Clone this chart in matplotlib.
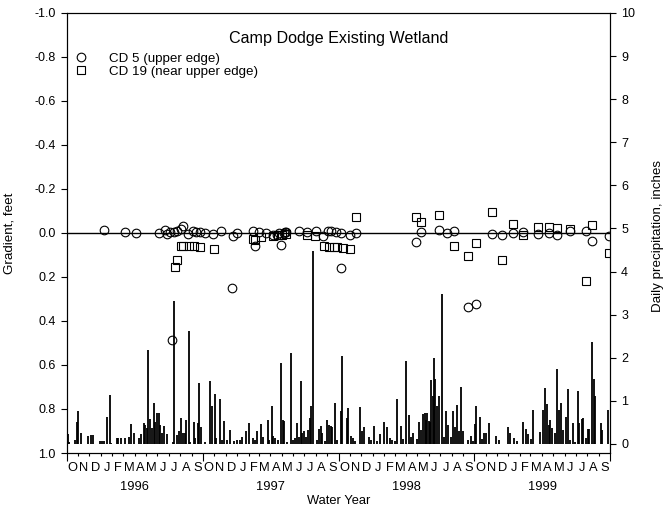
import numpy as np
import pandas as pd
import matplotlib
matplotlib.use("Agg")
import matplotlib.pyplot as plt

plt.rcParams['font.family'] = ['Liberation Sans', 'DejaVu Sans']
plt.rcParams['axes.unicode_minus'] = False

# ---------------- data ----------------
# x = day number counted from 1 Oct 1995 (start of water year 1996)
precip_day = [
    4, 7, 21, 27, 30, 39, 56, 66, 70, 90, 95, 101, 107, 116, 120, 135, 138, 147, 156, 167,
    174, 180, 194, 201, 208, 211, 216, 219, 224, 229, 235, 238, 243, 247, 252, 256, 261, 271,
    285, 289, 297, 301, 306, 312, 319, 322, 329, 332, 341, 346, 353, 357, 362,
    373, 386, 392, 399, 402, 411, 418, 424, 430, 439, 450, 459, 466, 471, 481, 490, 502, 507,
    513, 523, 529, 540, 545, 551, 556, 561, 568, 576, 581, 584, 592, 602, 608, 615, 620, 624,
    629, 634, 638, 644, 649, 653, 658, 662, 674, 679, 683, 687, 694, 701, 705, 710, 714, 721, 726,
    737, 740, 753, 757, 764, 769, 774, 790, 794, 800, 812, 819, 826, 835, 843, 853, 862, 869,
    876, 882, 889, 898, 905, 912, 920, 927, 932, 941, 948, 954, 959, 963, 966, 970, 973, 977,
    981, 984, 987, 990, 997, 1002, 1008, 1015, 1020, 1025, 1033, 1038, 1043, 1049, 1054, 1061,
    1067, 1079, 1086, 1092,
    1097, 1100, 1112, 1117, 1122, 1127, 1136, 1154, 1162, 1188, 1191, 1204, 1210, 1228, 1235,
    1240, 1249, 1255, 1274, 1282, 1285, 1292, 1296, 1300, 1305, 1314, 1318, 1323, 1328, 1335,
    1343, 1349, 1353, 1362, 1368, 1374, 1378, 1385, 1388, 1396, 1401, 1405, 1412, 1417, 1422,
    1436, 1439, 1457,
]
precip_in = [
    0.23, 0.05, 0.10, 0.50, 0.77, 0.25, 0.19, 0.22, 0.20, 0.08, 0.08, 0.07, 0.63, 1.14, 0.03, 0.13, 0.13, 0.13, 0.13, 0.17,
    0.46, 0.26, 0.13, 0.23, 0.48, 0.44, 0.36, 2.18, 0.58, 0.36, 0.96, 0.52, 0.71, 0.73, 0.44, 0.26, 0.42, 0.23,
    0.05, 3.32, 0.21, 0.31, 0.60, 0.26, 0.25, 0.56, 2.62, 0.05, 0.51, 0.13, 0.48, 1.41, 0.40,
    0.05, 1.46, 0.88, 1.15, 0.13, 1.04, 0.09, 0.53, 0.09, 0.32, 0.07, 0.09, 0.09, 0.17, 0.29, 0.49, 0.13, 0.09,
    0.29, 0.47, 0.17, 0.56, 0.09, 0.88, 0.19, 0.13, 0.09, 1.89, 0.56, 0.54, 0.05, 2.11, 0.09, 0.13, 0.49, 0.17,
    1.45, 0.26, 0.29, 0.17, 0.32, 0.60, 0.88, 4.47, 0.09, 0.34, 0.42, 0.26, 0.07, 0.56, 0.44, 0.42, 0.40, 0.96, 0.09,
    0.77, 2.03, 0.60, 0.84, 0.19, 0.15, 0.08, 0.85, 0.30, 0.39, 0.17, 0.09, 0.42, 0.08, 0.23, 0.51, 0.40, 0.15,
    0.09, 0.08, 1.04, 0.42, 0.11, 1.93, 0.67, 0.17, 0.25, 0.11, 0.50, 0.32, 0.70, 0.73, 0.56, 0.71, 0.53, 0.52,
    1.48, 1.11, 2.00, 1.50, 0.89, 1.11, 3.48, 0.17, 0.76, 0.43, 0.17, 0.76, 0.39, 0.90, 0.29, 1.33,
    0.29, 0.09, 0.19, 0.08,
    0.46, 0.88, 0.63, 0.11, 0.25, 0.26, 0.48, 0.19, 0.09, 0.39, 0.26, 0.13, 0.08, 0.50, 0.34,
    0.23, 0.11, 0.79, 0.27, 0.80, 1.29, 0.93, 0.44, 0.56, 0.38, 0.25, 1.73, 0.80, 0.94, 0.32,
    0.62, 1.27, 0.09, 0.48, 0.05, 1.23, 0.48, 0.59, 0.60, 0.13, 0.34, 0.34, 2.36, 1.50, 1.11,
    0.48, 0.32, 0.80,
]

cd5_day = [100, 157, 186, 247, 265, 269, 278, 283, 288, 297, 306, 313, 327, 340, 349, 358, 372,
           394, 416, 444, 446, 459, 500, 505, 518, 536, 556, 565, 572, 575, 584, 588, 591, 625,
           647, 670, 690, 703, 710, 724, 737, 738, 762, 778, 939, 952, 1002, 1023, 1041, 1080,
           1100, 1143, 1171, 1199, 1226, 1268, 1296, 1319, 1353, 1396, 1412, 1459]
cd5_grad = [-0.012, -0.006, 0.0, 0.0, -0.014, 0.005, -0.005, 0.486, -0.005, -0.008, -0.020, -0.032, 0.005, -0.008, -0.006, -0.005, 0.0,
            0.006, -0.010, 0.248, 0.015, 0.0, -0.010, 0.058, -0.005, -0.002, 0.010, 0.008, 0.0, 0.053, 0.0, -0.005, -0.005, -0.008,
            -0.005, -0.010, 0.012, -0.008, -0.008, -0.005, 0.159, -0.002, 0.008, -0.002, 0.042, -0.003, -0.014, 0.002, -0.011, 0.336,
            0.324, 0.005, 0.009, 0.0, -0.003, 0.005, -0.002, 0.009, -0.008, -0.008, 0.035, 0.014]

cd19_day = [291, 297, 306, 313, 329, 343, 358, 395, 502, 507, 523, 556, 568, 579, 590, 645, 669,
            692, 706, 719, 728, 742, 762, 778, 939, 954, 1002, 1041, 1079, 1101, 1143, 1171, 1199,
            1226, 1268, 1296, 1319, 1353, 1396, 1412, 1459]
cd19_grad = [0.156, 0.123, 0.061, 0.061, 0.059, 0.059, 0.064, 0.071, 0.026, 0.030, 0.020, 0.014, 0.008, 0.008, 0.005, 0.011, 0.014,
             0.058, 0.062, 0.064, 0.065, 0.068, 0.071, -0.071, -0.074, -0.052, -0.083, 0.058, 0.106, 0.047, -0.094, 0.121, -0.041,
             0.011, -0.026, -0.029, -0.021, -0.020, 0.217, -0.038, 0.092]

month_letters = list("ONDJFMAMJJAS")
water_years = [1996, 1997, 1998, 1999]
grad_ticks = [-1.0, -0.8, -0.6, -0.4, -0.2, 0.0, 0.2, 0.4, 0.6, 0.8, 1.0]
precip_ticks = list(range(0, 11))

# ---------------- axis structure ----------------
start = pd.Timestamp('1995-10-01')
month_starts = np.array((pd.date_range('1995-10-01', '1999-10-01', freq='MS') - start).days, dtype=float)
month_mids = (month_starts[:-1] + month_starts[1:]) / 2
year_starts = month_starts[::12]
year_mids = (year_starts[:-1] + year_starts[1:]) / 2

fig = plt.figure(figsize=(6.72, 5.11), dpi=100)
ax = fig.add_axes([0.0993, 0.1135, 0.8084, 0.8611])
ax2 = ax.twinx()

# precipitation bars (right axis)
ax2.vlines(precip_day, 0, precip_in, color='black', lw=1.3)
ax2.set_ylim(-0.209, 10)
ax2.set_yticks(precip_ticks)
ax2.set_yticklabels([str(t) for t in precip_ticks], fontsize=9)
ax2.tick_params(axis='y', direction='out', length=4, width=0.8, pad=4)
ax2.set_ylabel('Daily precipitation, inches', fontsize=9.6, rotation=90)
ax2.yaxis.set_label_coords(1.077, 0.493)

# gradients (left axis, on top)
ax.set_zorder(ax2.get_zorder() + 1)
ax.patch.set_visible(False)
ax.axhline(0, color='black', lw=1.0, zorder=1)
ax.plot(cd5_day, cd5_grad, linestyle='none', marker='o', ms=6.2, mfc='none',
        mec='black', mew=0.8, label='CD 5 (upper edge)', zorder=3)
ax.plot(cd19_day, cd19_grad, linestyle='none', marker='s', ms=5.5, mfc='none',
        mec='black', mew=0.8, label='CD 19 (near upper edge)', zorder=3)
ax.set_ylim(1.0, -1.0)
ax.set_yticks(grad_ticks)
ax.set_yticklabels([f'{t:.1f}' for t in grad_ticks], fontsize=9)
ax.tick_params(axis='y', direction='out', length=4, width=0.8, pad=4)
ax.set_ylabel('Gradient, feet', fontsize=9.6)
ax.yaxis.set_label_coords(-0.095, 0.5)

ax.set_xlim(0, month_starts[-1])
ax.set_xticks(year_starts)
ax.set_xticklabels([])
ax.set_xticks(month_starts, minor=True)
ax.tick_params(axis='x', which='major', direction='out', length=5.5, width=0.8)
ax.tick_params(axis='x', which='minor', direction='out', length=2.5, width=0.8)
ax2.tick_params(axis='x', which='both', length=0)

xt = ax.get_xaxis_transform()
for i, m in enumerate(month_mids):
    ax.text(m, -0.034, month_letters[i % 12], transform=xt, ha='center', va='center', fontsize=9.3)
for y, m in zip(water_years, year_mids):
    ax.text(m, -0.077, str(y), transform=xt, ha='center', va='center', fontsize=9.3)
ax.text(0.5, -0.109, 'Water Year', transform=ax.transAxes, ha='center', va='center', fontsize=9.3)

for a in (ax, ax2):
    for s in a.spines.values():
        s.set_linewidth(0.8)

ax.text(0.501, 0.943, 'Camp Dodge Existing Wetland', transform=ax.transAxes,
        ha='center', va='center', fontsize=11.6)
ax.legend(loc='upper left', bbox_to_anchor=(-0.004, 0.932), frameon=False, fontsize=9.6,
          handlelength=1.0, handletextpad=1.6, labelspacing=0.08, borderaxespad=0.3)

fig.savefig('out.png', dpi=100)
